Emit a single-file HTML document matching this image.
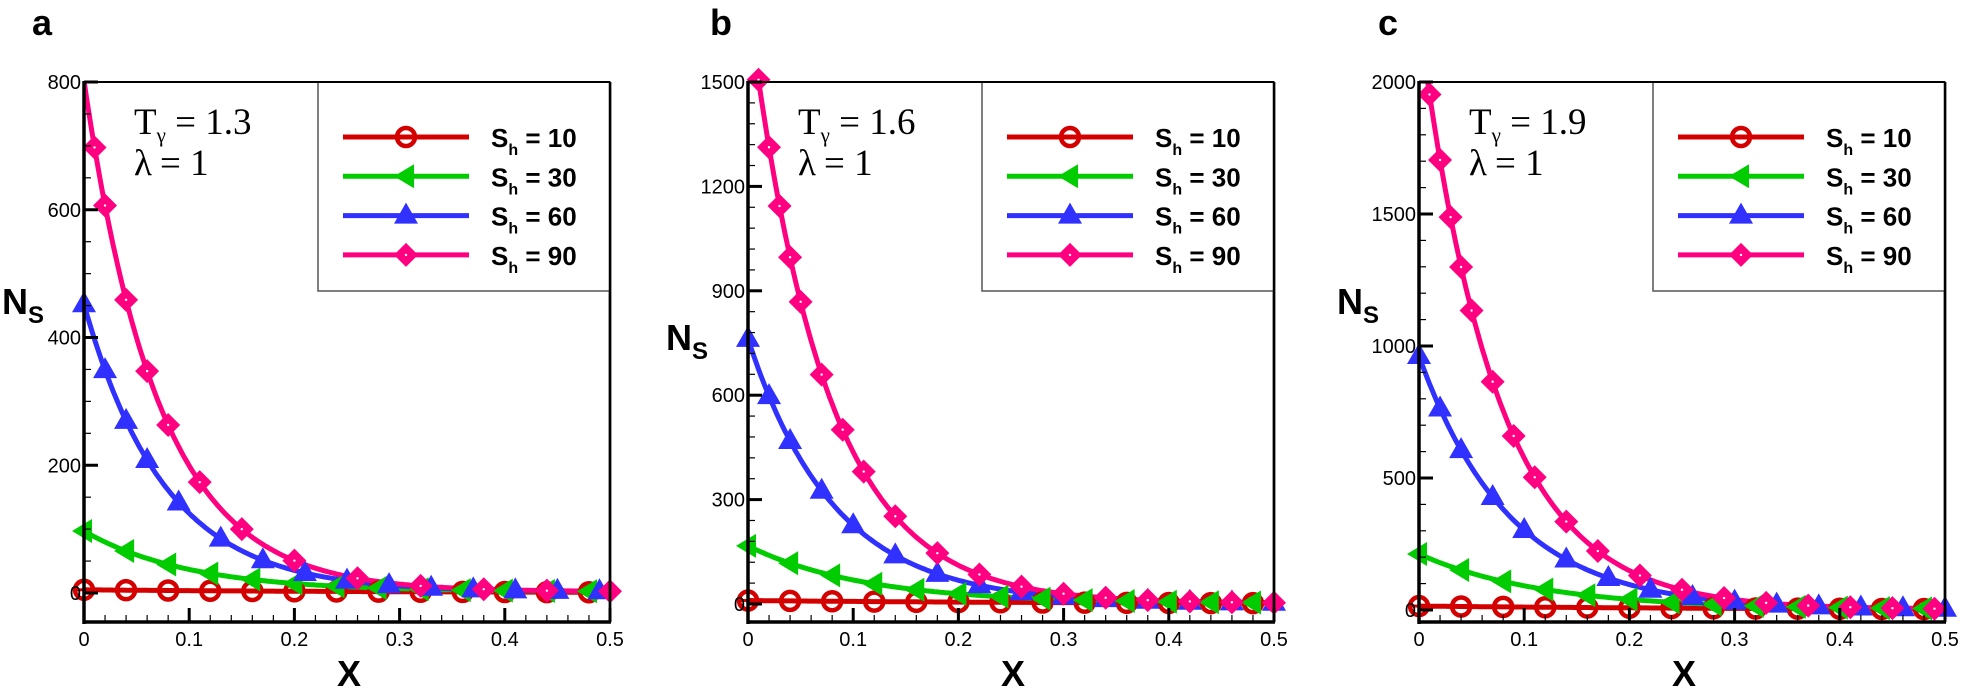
<!DOCTYPE html>
<html><head><meta charset="utf-8">
<style>
html,body{margin:0;padding:0;background:#fff;}
svg{display:block;}
</style></head>
<body>
<svg id="s" width="1961" height="699" xmlns="http://www.w3.org/2000/svg"></svg>
<script>
const S=document.getElementById('s');
let h='';
const panels=[
 {L:84,lab:'a',lx:32,T:'1.3',max:800,zero:593,major:200,minor:50,
  red:[5,3],green:[95,10],blue:[450,13],pink:[800,14],
  pinkX:[0.01,0.02,0.04,0.06,0.08,0.11,0.15,0.2,0.26,0.32,0.38,0.44,0.5],
  blueX:[0,0.02,0.04,0.06,0.09,0.13,0.17,0.21,0.25,0.29,0.33,0.37,0.41,0.45,0.49],
  nsy:314},
 {L:748,lab:'b',lx:710,T:'1.6',max:1500,zero:604,major:300,minor:60,
  red:[10,3],green:[165,9],blue:[760,12.2],pink:[1727,13.8],
  pinkX:[0.01,0.02,0.03,0.04,0.05,0.07,0.09,0.11,0.14,0.18,0.22,0.26,0.3,0.34,0.38,0.42,0.46,0.5],
  blueX:[0,0.02,0.04,0.07,0.1,0.14,0.18,0.22,0.26,0.3,0.34,0.38,0.42,0.46,0.5],
  nsy:350},
 {L:1419,lab:'c',lx:1378,T:'1.9',max:2000,zero:610,major:500,minor:100,
  red:[15,3],green:[210,8.5],blue:[960,11.6],pink:[2235,13.6],
  pinkX:[0.01,0.02,0.03,0.04,0.05,0.07,0.09,0.11,0.14,0.17,0.21,0.25,0.29,0.33,0.37,0.41,0.45,0.49],
  blueX:[0,0.02,0.04,0.07,0.1,0.14,0.18,0.22,0.26,0.3,0.34,0.38,0.42,0.46,0.5],
  nsy:314}
];
const TOP=82,BOT=622,W=526;
const C={red:'#d40000',green:'#00cc00',blue:'#3030ff',pink:'#ff0080'};
function marker(t,x,y){
 if(t=='red')return `<circle cx="${x}" cy="${y}" r="9" fill="none" stroke="${C.red}" stroke-width="4.5"/><line x1="${x-8}" y1="${y}" x2="${x+8}" y2="${y}" stroke="${C.red}" stroke-width="3"/>`;
 if(t=='green')return `<polygon points="${x-12},${y} ${x+8},${y-12} ${x+8},${y+12}" fill="${C.green}"/>`;
 if(t=='blue')return `<polygon points="${x},${y-13} ${x+12},${y+8} ${x-12},${y+8}" fill="${C.blue}"/>`;
 return `<polygon points="${x},${y-12} ${x+12},${y} ${x},${y+12} ${x-12},${y}" fill="${C.pink}"/><circle cx="${x}" cy="${y}" r="1.2" fill="#fff"/>`;
}
panels.forEach((p,i)=>{
 const sx=x=>p.L+x/0.5*W;
 const py=(TOP-p.zero)/p.max;
 const sy=v=>p.zero+v*py;
 h+=`<defs><clipPath id="c${i}"><rect x="${p.L}" y="${TOP}" width="${W}" height="${BOT-TOP}"/></clipPath></defs>`;
 ['red','green','blue','pink'].forEach(t=>{
  const [A,k]=p[t];
  const f=x=>A*Math.exp(-k*x)+ (t=='red'?0:2);
  let d='';
  for(let j=0;j<=200;j++){const x=j*0.0025;d+=(j?'L':'M')+sx(x).toFixed(1)+' '+sy(f(x)).toFixed(1);}
  h+=`<path d="${d}" fill="none" stroke="${C[t]}" stroke-width="5" clip-path="url(#c${i})"/>`;
 });
 ['red','green','blue','pink'].forEach(t=>{
  const [A,k]=p[t];
  const f=x=>A*Math.exp(-k*x)+(t=='red'?0:2);
  let xs;
  if(t=='pink')xs=p.pinkX;else if(t=='blue')xs=p.blueX;
  else xs=[0,0.04,0.08,0.12,0.16,0.2,0.24,0.28,0.32,0.36,0.4,0.44,0.48];
  xs.forEach(x=>{const y=sy(f(x));if(y>TOP-5)h+=marker(t,sx(x),y);});
 });
 h+=`<line x1="${p.L}" y1="${TOP}" x2="${p.L+W}" y2="${TOP}" stroke="#000" stroke-width="2"/>`;
 h+=`<line x1="${p.L+W}" y1="${TOP}" x2="${p.L+W}" y2="${BOT}" stroke="#000" stroke-width="2.5"/>`;
 h+=`<line x1="${p.L}" y1="${TOP-1}" x2="${p.L}" y2="${BOT+2}" stroke="#000" stroke-width="3.5"/>`;
 h+=`<line x1="${p.L-1}" y1="${BOT}" x2="${p.L+W+1}" y2="${BOT}" stroke="#000" stroke-width="3.5"/>`;
 for(let v=0;v<=p.max+1e-6;v+=p.minor){
  const y=sy(v);const maj=Math.abs(v/p.major-Math.round(v/p.major))<1e-6;
  h+=`<line x1="${p.L}" y1="${y}" x2="${p.L+(maj?14:7)}" y2="${y}" stroke="#000" stroke-width="${maj?3:1.2}"/>`;
  if(maj)h+=`<text x="${p.L-3}" y="${y+7}" text-anchor="end" font-family="Liberation Sans,sans-serif" font-size="20">${v}</text>`;
 }
 for(let v=-p.minor;sy(v)<BOT;v-=p.minor){h+=`<line x1="${p.L}" y1="${sy(v)}" x2="${p.L+7}" y2="${sy(v)}" stroke="#000" stroke-width="1.2"/>`;}
 for(let j=0;j<=25;j++){
  const x=sx(j*0.02);const maj=j%5==0;
  h+=`<line x1="${x}" y1="${BOT}" x2="${x}" y2="${BOT-(maj?14:7)}" stroke="#000" stroke-width="${maj?3:1.2}"/>`;
  if(maj)h+=`<text x="${x}" y="${646}" text-anchor="middle" font-family="Liberation Sans,sans-serif" font-size="20">${j==0?'0':(j*0.02).toFixed(1)}</text>`;
 }
 h+=`<text x="${p.lx}" y="35" font-family="Liberation Sans,sans-serif" font-weight="bold" font-size="36">${p.lab}</text>`;
 h+=`<text x="${p.L+W/2-10}" y="686" font-family="Liberation Sans,sans-serif" font-weight="bold" font-size="36">X</text>`;
 const nx=p.L-82;
 h+=`<text x="${nx}" y="${p.nsy}" font-family="Liberation Sans,sans-serif" font-weight="bold" font-size="36">N<tspan font-size="24" dy="9">S</tspan></text>`;
 const ax=p.L+50;
 h+=`<text x="${ax}" y="134" font-family="Liberation Serif,serif" font-size="37">T<tspan font-size="21" dy="8">γ</tspan><tspan dy="-8"> = ${p.T}</tspan></text>`;
 h+=`<text x="${ax}" y="175" font-family="Liberation Serif,serif" font-size="37">λ<tspan dx="8">= 1</tspan></text>`;
 const lL=p.L+234;
 h+=`<rect x="${lL}" y="${TOP}" width="${p.L+W-lL}" height="${291-TOP}" fill="#fff" stroke="#555" stroke-width="1.5"/>`;
 h+=`<line x1="${p.L}" y1="${TOP}" x2="${p.L+W}" y2="${TOP}" stroke="#000" stroke-width="2"/>`;
 h+=`<line x1="${p.L+W}" y1="${TOP}" x2="${p.L+W}" y2="${BOT}" stroke="#000" stroke-width="2.5"/>`;
 const rows=[['red','10'],['green','30'],['blue','60'],['pink','90']];
 rows.forEach((r,k)=>{
  const y=137+k*39.3;
  h+=`<line x1="${lL+25}" y1="${y}" x2="${lL+151}" y2="${y}" stroke="${C[r[0]]}" stroke-width="5"/>`;
  h+=marker(r[0],lL+88,y);
  h+=`<text x="${lL+173}" y="${y+10}" font-family="Liberation Sans,sans-serif" font-weight="bold" font-size="26">S<tspan font-size="16" dy="8">h</tspan><tspan dy="-8"> = ${r[1]}</tspan></text>`;
 });
});
S.innerHTML=h;
</script>
</body></html>
